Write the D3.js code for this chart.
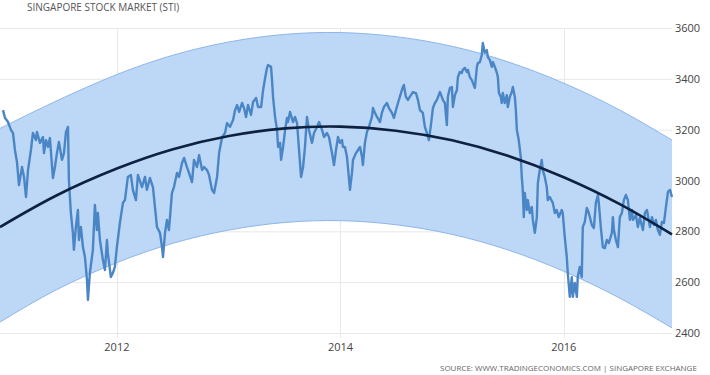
<!DOCTYPE html>
<html>
<head>
    <script src="https://d3js.org/d3.v7.min.js"></script>
    <style>
        body {
            margin: 0;
            font-family: 'Open Sans', sans-serif;
            background: #fff;
        }

        .grid line {
            stroke: #e8e8e8;
            stroke-width: 1px;
        }

        .axis text {
            fill: #444;
            font-size: 11px;
        }
    </style>
</head>

<body>
    <script>
        // index dates written as decimal years
        const stiDates = [
            2010.980, 2010.998, 2011.025, 2011.051, 2011.069, 2011.087, 2011.105, 2011.123, 2011.150, 2011.168,
            2011.186, 2011.204, 2011.230, 2011.248, 2011.275, 2011.284, 2011.311, 2011.338, 2011.347, 2011.365,
            2011.383, 2011.400, 2011.427, 2011.445, 2011.463, 2011.481, 2011.508, 2011.526, 2011.544, 2011.562,
            2011.570, 2011.588, 2011.606, 2011.615, 2011.633, 2011.651, 2011.660, 2011.678, 2011.696, 2011.714,
            2011.732, 2011.741, 2011.758, 2011.785, 2011.803, 2011.821, 2011.830, 2011.848, 2011.875, 2011.893,
            2011.911, 2011.919, 2011.946, 2011.964, 2011.982, 2012.000, 2012.027, 2012.054, 2012.072, 2012.098,
            2012.125, 2012.143, 2012.170, 2012.188, 2012.224, 2012.251, 2012.268, 2012.295, 2012.322, 2012.340,
            2012.358, 2012.385, 2012.403, 2012.412, 2012.430, 2012.447, 2012.465, 2012.492, 2012.510, 2012.537,
            2012.555, 2012.582, 2012.600, 2012.626, 2012.644, 2012.671, 2012.689, 2012.716, 2012.734, 2012.761,
            2012.779, 2012.805, 2012.823, 2012.850, 2012.868, 2012.895, 2012.913, 2012.940, 2012.966, 2012.984,
            2013.011, 2013.038, 2013.056, 2013.074, 2013.092, 2013.119, 2013.136, 2013.154, 2013.172, 2013.199,
            2013.217, 2013.244, 2013.262, 2013.289, 2013.307, 2013.325, 2013.342, 2013.351, 2013.378, 2013.387,
            2013.396, 2013.414, 2013.432, 2013.441, 2013.459, 2013.468, 2013.486, 2013.504, 2013.521, 2013.530,
            2013.548, 2013.575, 2013.593, 2013.611, 2013.629, 2013.647, 2013.665, 2013.682, 2013.700, 2013.718,
            2013.745, 2013.763, 2013.790, 2013.808, 2013.835, 2013.853, 2013.879, 2013.897, 2013.924, 2013.942,
            2013.960, 2013.978, 2013.996, 2014.014, 2014.022, 2014.040, 2014.058, 2014.067, 2014.085, 2014.103,
            2014.112, 2014.139, 2014.157, 2014.175, 2014.193, 2014.201, 2014.219, 2014.237, 2014.255, 2014.282,
            2014.291, 2014.309, 2014.327, 2014.354, 2014.371, 2014.389, 2014.416, 2014.434, 2014.461, 2014.479,
            2014.497, 2014.515, 2014.542, 2014.559, 2014.568, 2014.586, 2014.604, 2014.631, 2014.649, 2014.676,
            2014.694, 2014.712, 2014.738, 2014.756, 2014.774, 2014.792, 2014.810, 2014.828, 2014.846, 2014.864,
            2014.891, 2014.908, 2014.917, 2014.935, 2014.953, 2014.962, 2014.980, 2014.998, 2015.007, 2015.025,
            2015.043, 2015.052, 2015.069, 2015.087, 2015.096, 2015.114, 2015.132, 2015.141, 2015.159, 2015.177,
            2015.186, 2015.204, 2015.222, 2015.231, 2015.249, 2015.266, 2015.275, 2015.293, 2015.311, 2015.320,
            2015.338, 2015.356, 2015.365, 2015.383, 2015.401, 2015.410, 2015.419, 2015.436, 2015.445, 2015.454,
            2015.472, 2015.490, 2015.499, 2015.517, 2015.535, 2015.544, 2015.562, 2015.571, 2015.580, 2015.597,
            2015.615, 2015.624, 2015.633, 2015.642, 2015.651, 2015.669, 2015.678, 2015.696, 2015.714, 2015.723,
            2015.741, 2015.759, 2015.768, 2015.785, 2015.803, 2015.812, 2015.830, 2015.848, 2015.857, 2015.875,
            2015.902, 2015.920, 2015.937, 2015.955, 2015.982, 2015.991, 2016.009, 2016.027, 2016.036, 2016.054,
            2016.072, 2016.081, 2016.099, 2016.117, 2016.125, 2016.143, 2016.161, 2016.170, 2016.188, 2016.206,
            2016.224, 2016.251, 2016.269, 2016.287, 2016.305, 2016.313, 2016.331, 2016.349, 2016.367, 2016.385,
            2016.403, 2016.430, 2016.439, 2016.448, 2016.466, 2016.484, 2016.501, 2016.519, 2016.537, 2016.555,
            2016.573, 2016.591, 2016.609, 2016.618, 2016.645, 2016.662, 2016.680, 2016.707, 2016.725, 2016.743,
            2016.770, 2016.788, 2016.805, 2016.823, 2016.841, 2016.859, 2016.877, 2016.895, 2016.913, 2016.931,
            2016.949, 2016.967
        ];

        const stiValues = [
            3277, 3246, 3230, 3199, 3187, 3120, 3073, 2982, 3053, 3014,
            2935, 3041, 3120, 3187, 3159, 3191, 3148, 3171, 3108, 3159,
            3132, 3167, 3010, 3053, 3108, 3152, 3081, 3108, 3191, 3211,
            3002, 2872, 2794, 2727, 2817, 2884, 2766, 2817, 2738, 2699,
            2609, 2530, 2636, 2727, 2904, 2805, 2872, 2766, 2687, 2648,
            2766, 2715, 2620, 2636, 2660, 2738, 2833, 2912, 2923, 3014,
            3022, 2963, 2923, 3022, 2974, 3014, 2963, 3010, 2974, 2896,
            2817, 2794, 2738, 2699, 2794, 2845, 2805, 2951, 2974, 3030,
            3014, 3069, 3089, 3053, 3030, 2994, 3081, 3053, 3100, 3041,
            3053, 3041, 3022, 2963, 2951, 3014, 3108, 3171, 3187, 3226,
            3211, 3238, 3277, 3297, 3270, 3305, 3285, 3250, 3297, 3258,
            3309, 3325, 3289, 3289, 3356, 3403, 3443, 3454, 3447, 3395,
            3329, 3250, 3199, 3132, 3148, 3081, 3132, 3199, 3246, 3230,
            3270, 3230, 3250, 3226, 3120, 3014, 3053, 3132, 3250, 3199,
            3148, 3187, 3211, 3230, 3199, 3171, 3187, 3171, 3108, 3061,
            3120, 3171, 3148, 3159, 3132, 3132, 3093, 3053, 2963, 3030,
            3081, 3108, 3120, 3132, 3093, 3061, 3148, 3191, 3211, 3250,
            3285, 3266, 3250, 3230, 3266, 3289, 3305, 3285, 3266, 3246,
            3277, 3305, 3344, 3368, 3376, 3329, 3317, 3336, 3348, 3344,
            3317, 3277, 3266, 3211, 3187, 3159, 3218, 3285, 3305, 3317,
            3348, 3329, 3317, 3305, 3218, 3329, 3364, 3368, 3289, 3336,
            3356, 3407, 3427, 3423, 3435, 3443, 3427, 3435, 3407, 3395,
            3384, 3364, 3447, 3462, 3466, 3494, 3541, 3502, 3513, 3486,
            3474, 3447, 3466, 3447, 3423, 3407, 3344, 3329, 3305, 3344,
            3305, 3336, 3289, 3329, 3348, 3368, 3329, 3277, 3199, 3159,
            3093, 3014, 2963, 2856, 2951, 2884, 2923, 2872, 2896, 2845,
            2794, 2856, 2990, 3041, 3081, 3041, 3014, 2974, 2923, 2935,
            2912, 2872, 2884, 2856, 2884, 2872, 2778, 2699, 2636, 2542,
            2620, 2542, 2597, 2542, 2620, 2660, 2620, 2817, 2837, 2892,
            2872, 2825, 2813, 2912, 2943, 2912, 2817, 2738, 2734, 2766,
            2754, 2794, 2856, 2805, 2766, 2738, 2856, 2872, 2923, 2943,
            2923, 2845, 2884, 2845, 2864, 2817, 2853, 2805, 2872, 2884,
            2817, 2856, 2825, 2845, 2805, 2786, 2837, 2833, 2896, 2955,
            2963, 2935
        ];

        // fitted trend and its band, read at roughly half-year steps
        const trendDates = [2010.953, 2011.454, 2012.000, 2012.501, 2013.000, 2013.504, 2014.000,
            2014.497, 2015.000, 2015.499, 2016.000, 2016.501, 2016.967];
        const trendValues = [2817, 2940, 3047, 3123, 3175, 3205, 3212, 3196, 3158, 3097, 3013, 2907, 2788];
        const bandUpper = [3205, 3312, 3417, 3493, 3545, 3575, 3582, 3566, 3528, 3467, 3383, 3277, 3159];
        const bandLower = [2443, 2569, 2677, 2753, 2805, 2835, 2842, 2826, 2788, 2727, 2643, 2537, 2420];

        const yTicks = [2400, 2600, 2800, 3000, 3200, 3400, 3600];
        const xTicks = [2012, 2014, 2016];

        const width = 710,
            height = 375;
        const plot = { left: 0, right: 672, top: 28, bottom: 333 };

        const toDate = d => {
            const yr = Math.floor(d);
            const start = Date.UTC(yr, 0, 1),
                end = Date.UTC(yr + 1, 0, 1);
            return new Date(start + (d - yr) * (end - start));
        };

        const x = d3.scaleUtc()
            .domain([toDate(trendDates[0]), toDate(trendDates[trendDates.length - 1])])
            .range([plot.left, plot.right]);

        const y = d3.scaleLinear()
            .domain([2400, 3600])
            .range([plot.bottom, plot.top]);

        const svg = d3.select('body').append('svg')
            .attr('width', width)
            .attr('height', height);

        svg.append('text')
            .attr('x', 27)
            .attr('y', 11)
            .attr('fill', '#555')
            .style('font-size', '10px')
            .text('SINGAPORE STOCK MARKET (STI)');

        // grid
        const grid = svg.append('g').attr('class', 'grid');
        grid.selectAll('line.h')
            .data(yTicks)
            .join('line')
            .attr('class', 'h')
            .attr('x1', plot.left)
            .attr('x2', plot.right)
            .attr('y1', d => y(d) + 0.5)
            .attr('y2', d => y(d) + 0.5);
        grid.selectAll('line.v')
            .data(xTicks)
            .join('line')
            .attr('class', 'v')
            .attr('x1', d => Math.round(x(toDate(d))) + 0.5)
            .attr('x2', d => Math.round(x(toDate(d))) + 0.5)
            .attr('y1', plot.top)
            .attr('y2', plot.bottom + 5);

        // band
        const bandData = trendDates.map((d, i) => ({ date: toDate(d), hi: bandUpper[i], lo: bandLower[i] }));
        const band = d3.area()
            .curve(d3.curveNatural)
            .x(d => x(d.date))
            .y0(d => y(d.lo))
            .y1(d => y(d.hi));

        svg.append('path')
            .datum(bandData)
            .attr('d', band)
            .attr('fill', '#b9d5f6')
            .attr('fill-opacity', 0.95);

        ['hi', 'lo'].forEach(k => {
            svg.append('path')
                .datum(bandData)
                .attr('d', d3.line().curve(d3.curveNatural).x(d => x(d.date)).y(d => y(d[k])))
                .attr('fill', 'none')
                .attr('stroke', '#8fb6e6')
                .attr('stroke-width', 1);
        });

        // index line
        const series = stiDates.map((d, i) => ({ date: toDate(d), value: stiValues[i] }));
        svg.append('path')
            .datum(series)
            .attr('d', d3.line().x(d => x(d.date)).y(d => y(d.value)))
            .attr('fill', 'none')
            .attr('stroke', '#4a86c6')
            .attr('stroke-width', 2.4)
            .attr('stroke-linejoin', 'round');

        // trend
        const trend = trendDates.map((d, i) => ({ date: toDate(d), value: trendValues[i] }));
        svg.append('path')
            .datum(trend)
            .attr('d', d3.line().curve(d3.curveNatural).x(d => x(d.date)).y(d => y(d.value)))
            .attr('fill', 'none')
            .attr('stroke', '#0e2240')
            .attr('stroke-width', 2.6);

        // y axis on the right
        svg.append('g')
            .attr('class', 'axis')
            .selectAll('text')
            .data(yTicks)
            .join('text')
            .attr('x', plot.right + 3)
            .attr('y', d => y(d) + 4)
            .text(d => d);

        // x axis labels
        svg.append('g')
            .attr('class', 'axis')
            .selectAll('text')
            .data(xTicks)
            .join('text')
            .attr('x', d => x(toDate(d)))
            .attr('y', 351)
            .attr('text-anchor', 'middle')
            .text(d => d);

        svg.append('text')
            .attr('x', 440)
            .attr('y', 371)
            .attr('fill', '#666')
            .style('font-size', '8px')
            .text('SOURCE: WWW.TRADINGECONOMICS.COM | SINGAPORE EXCHANGE');
    </script>
</body>

</html>
